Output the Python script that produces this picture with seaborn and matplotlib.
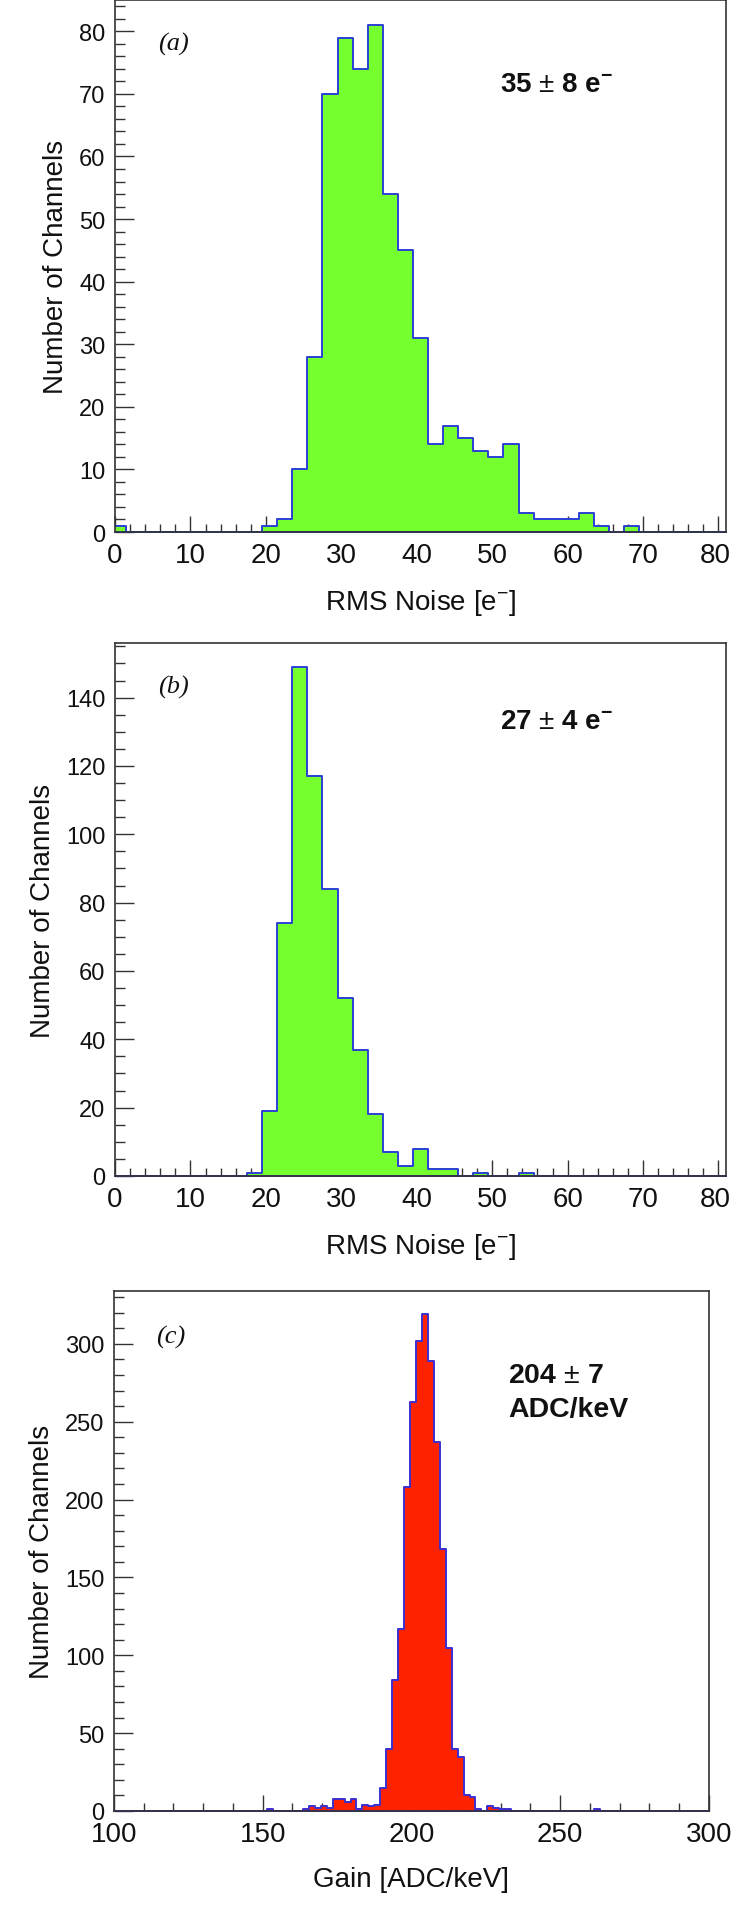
import numpy as np
import pandas as pd
import matplotlib
matplotlib.use("Agg")
import matplotlib.pyplot as plt
import matplotlib.transforms as mtransforms
import seaborn as sns
from matplotlib.ticker import MultipleLocator

# (a) RMS noise, bins of 2 e- (lower edge of each filled bin)
noise_a_lo = [-0.5, 19.5, 21.5, 23.5, 25.5, 27.5, 29.5, 31.5, 33.5, 35.5, 37.5,
              39.5, 41.5, 43.5, 45.5, 47.5, 49.5, 51.5, 53.5, 55.5, 57.5, 59.5,
              61.5, 63.5, 67.5]
noise_a_counts = [1, 1, 2, 10, 28, 70, 79, 74, 81, 54, 45,
                  31, 14, 17, 15, 13, 12, 14, 3, 2, 2, 2,
                  3, 1, 1]

# (b) RMS noise
noise_b_lo = [17.5, 19.5, 21.5, 23.5, 25.5, 27.5, 29.5, 31.5, 33.5, 35.5,
              37.5, 39.5, 41.5, 43.5, 47.5, 53.5]
noise_b_counts = [1, 19, 74, 149, 117, 84, 52, 37, 18, 7,
                  3, 8, 2, 2, 1, 1]

# (c) gain
gain_lo = [151.5, 163.5, 165.5, 167.5, 169.5, 171.5, 173.5, 175.5, 177.5, 179.5,
           181.5, 183.5, 185.5, 187.5, 189.5, 191.5, 193.5, 195.5, 197.5, 199.5,
           201.5, 203.5, 205.5, 207.5, 209.5, 211.5, 213.5, 215.5, 217.5, 219.5,
           221.5, 225.5, 227.5, 229.5, 231.5, 261.5]
gain_counts = [1, 1, 3, 2, 3, 2, 8, 8, 6, 8,
               1, 4, 3, 4, 15, 40, 84, 117, 208, 263,
               302, 319, 289, 237, 168, 105, 40, 35, 10, 9,
               1, 3, 2, 1, 1, 1]

GREEN = "#76ff2e"
RED = "#ff2200"
BLUE = "#2b3fd4"
FRAME = "#333333"
INK = "#111111"

sns.set_theme(style="white")
plt.rcParams["font.family"] = ["Liberation Sans", "DejaVu Sans"]
plt.rcParams["mathtext.fontset"] = "custom"
plt.rcParams["mathtext.rm"] = "Liberation Sans"
plt.rcParams["mathtext.bf"] = "Liberation Sans:bold"
plt.rcParams["mathtext.it"] = "Liberation Sans:italic"

fig = plt.figure(figsize=(7.34, 19.15), dpi=100)
ax_a = fig.add_axes([0.15668, 0.72167, 0.83243, 0.27781])
ax_b = fig.add_axes([0.15668, 0.38538, 0.83243, 0.27833])
ax_c = fig.add_axes([0.15531, 0.05379, 0.81063, 0.27154])


def draw_hist(ax, lo, counts, edges, face, edge):
    df = pd.DataFrame({"center": np.asarray(lo, dtype=float) + 1.0,
                       "count": np.asarray(counts, dtype=float)})
    sns.histplot(data=df, x="center", weights="count", bins=list(edges),
                 element="step", fill=True, facecolor=face, edgecolor=edge,
                 linewidth=1.4, alpha=1, ax=ax)


def style_axis(ax, xlim, ylim, xmaj, xmin, ymaj, ymin, xlabel):
    ax.set_xlim(*xlim)
    ax.set_ylim(*ylim)
    ax.xaxis.set_major_locator(MultipleLocator(xmaj))
    ax.xaxis.set_minor_locator(MultipleLocator(xmin))
    ax.yaxis.set_major_locator(MultipleLocator(ymaj))
    ax.yaxis.set_minor_locator(MultipleLocator(ymin))
    ax.tick_params(axis="x", which="both", direction="in", top=False, bottom=True,
                   colors=FRAME, labelcolor=INK, labelsize=20, pad=7, width=1.0)
    ax.tick_params(axis="y", which="both", direction="in", right=False, left=True,
                   colors=FRAME, labelcolor=INK, labelsize=17, pad=7, width=1.0)
    ax.tick_params(axis="x", which="major", length=11.5)
    ax.tick_params(axis="x", which="minor", length=6)
    ax.tick_params(axis="y", which="major", length=13.5)
    ax.tick_params(axis="y", which="minor", length=7)
    for sp in ax.spines.values():
        sp.set_visible(True)
        sp.set_color(FRAME)
        sp.set_linewidth(1.2)
    ax.set_xlabel(xlabel, fontsize=20, labelpad=14, color=INK)
    ax.set_ylabel("Number of Channels", fontsize=20, labelpad=7, color=INK)


edges_noise = np.arange(-0.5, 82, 2)
edges_gain = np.arange(99.5, 302, 2)

draw_hist(ax_a, noise_a_lo, noise_a_counts, edges_noise, GREEN, BLUE)
draw_hist(ax_b, noise_b_lo, noise_b_counts, edges_noise, GREEN, BLUE)
draw_hist(ax_c, gain_lo, gain_counts, edges_gain, RED, "#3a2fd0")

style_axis(ax_a, (0, 81), (0, 85), 10, 2, 10, 2, "RMS Noise [e$^{-}$]")
style_axis(ax_b, (0, 81), (0, 156), 10, 2, 20, 5, "RMS Noise [e$^{-}$]")
style_axis(ax_c, (100, 300), (0, 334), 50, 10, 50, 10, "Gain [ADC/keV]")

# the "80" label sits right at the figure edge, nudge it in a little
fig.canvas.draw()
nudge = mtransforms.ScaledTranslation(-3 / 100, 0, fig.dpi_scale_trans)
for ax in (ax_a, ax_b):
    for lab in ax.get_xticklabels():
        if lab.get_text() == "80":
            lab.set_transform(lab.get_transform() + nudge)

for ax, tag, y in [(ax_a, "(a)", 0.918), (ax_b, "(b)", 0.919), (ax_c, "(c)", 0.912)]:
    ax.text(0.07, y, tag, transform=ax.transAxes, fontsize=19, style="italic",
            family="Liberation Serif", va="center", ha="left", color=INK)

ax_a.text(0.63, 0.842, r"$\mathbf{35}$ $\pm$ $\mathbf{8\ e^{-}}$", transform=ax_a.transAxes,
          fontsize=20, va="center", ha="left", color=INK)
ax_b.text(0.63, 0.854, r"$\mathbf{27}$ $\pm$ $\mathbf{4\ e^{-}}$", transform=ax_b.transAxes,
          fontsize=20, va="center", ha="left", color=INK)
ax_c.text(0.662, 0.838, r"$\mathbf{204}$ $\pm$ $\mathbf{7}$", transform=ax_c.transAxes,
          fontsize=20.5, va="center", ha="left", color=INK)
ax_c.text(0.662, 0.773, "ADC/keV", transform=ax_c.transAxes, fontsize=20.5,
          fontweight="bold", va="center", ha="left", color=INK)

fig.savefig("out.png", dpi=100)
plt.close(fig)
